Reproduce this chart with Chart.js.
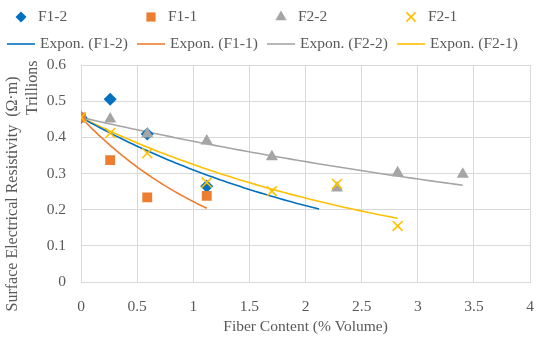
<!DOCTYPE html>
<html>
<head>
<meta charset="utf-8">
<script src="https://cdn.jsdelivr.net/npm/chart.js@4.4.0/dist/chart.umd.min.js"></script>
<style>
html,body{margin:0;padding:0;background:#fff;}
</style>
</head>
<body>
<canvas id="chart" width="550" height="340"></canvas>
<script>
// Series data
const seriesNames=['F1-2','F1-1','F2-2','F2-1'];
const xF1_2=[0,0.26,0.59,1.12];
const yF1_2=[0.455,0.505,0.409,0.265];
const xF1_1=[0,0.26,0.59,1.12];
const yF1_1=[0.455,0.337,0.234,0.238];
const xF2_2=[0,0.26,0.59,1.12,1.7,2.28,2.82,3.4];
const yF2_2=[0.455,0.451,0.409,0.39,0.346,0.26,0.302,0.298];
const xF2_1=[0,0.26,0.59,1.12,1.7,2.28,2.82];
const yF2_1=[0.455,0.412,0.356,0.275,0.251,0.271,0.155];
// trendline end (F1-2 trend is forecast forward)
const trendEnd=[2.12,1.12,3.4,2.82];
const xTicks=[0,0.5,1,1.5,2,2.5,3,3.5,4];
const yTicks=[0,0.1,0.2,0.3,0.4,0.5,0.6];
const xTitle='Fiber Content (% Volume)';
const yTitle='Surface Electrical Resistivity  (\u03A9\u00B7m)';
const yUnit='Trillions';

const colors=['#0070C0','#ED7D31','#A5A5A5','#FFC000'];
const styles=['rectRot','rect','triangle','crossRot'];
const radii=[6.5,7,7,7];
const legendRadii=[5.5,6.5,6.5,6.5];
const FONT='"Liberation Serif", serif';
const TXT='#595959';

const xs=[xF1_2,xF1_1,xF2_2,xF2_1];
const ys=[yF1_2,yF1_1,yF2_2,yF2_1];

// exponential trend y = y0*exp(b x), intercept fixed at the x=0 value
function expTrend(x,y,end){
  const y0=y[0];
  let sxy=0,sxx=0;
  for(let i=0;i<x.length;i++){sxy+=x[i]*Math.log(y[i]/y0);sxx+=x[i]*x[i];}
  const b=sxy/sxx;
  const pts=[];
  const n=60;
  for(let i=0;i<=n;i++){const t=end*i/n;pts.push({x:t,y:y0*Math.exp(b*t)});}
  return pts;
}

const drawOrder=[4,2,3,1];
const datasets=[];
seriesNames.forEach((name,i)=>{
  datasets.push({
    label:name,
    data:xs[i].map((v,j)=>({x:v,y:ys[i][j]})),
    pointStyle:styles[i],
    pointRadius:radii[i],
    pointHoverRadius:radii[i],
    backgroundColor:colors[i],
    borderColor:colors[i],
    borderWidth:i===3?1.6:0,
    showLine:false,
    order:drawOrder[i]
  });
});
seriesNames.forEach((name,i)=>{
  datasets.push({
    label:'Expon. ('+name+')',
    data:expTrend(xs[i],ys[i],trendEnd[i]),
    showLine:true,
    borderColor:colors[i],
    borderWidth:1.6,
    pointRadius:0,
    fill:false,
    tension:0,
    order:10
  });
});

const decor={
  id:'decor',
  afterDraw(chart){
    const ctx=chart.ctx;
    const h=Chart.helpers;
    ctx.save();
    ctx.fillStyle=TXT;
    ctx.font='15.5px '+FONT;
    ctx.textBaseline='middle';
    ctx.textAlign='left';
    // legend row 1: markers
    seriesNames.forEach((name,i)=>{
      const cx=21+130*i;
      ctx.fillStyle=colors[i];ctx.strokeStyle=colors[i];
      ctx.lineWidth=i===3?1.6:0;
      h.drawPoint(ctx,{pointStyle:styles[i],radius:legendRadii[i],borderWidth:i===3?1.6:0},cx,17);
      ctx.fillStyle=TXT;
      ctx.fillText(name,38+130*i,17);
    });
    // legend row 2: trend lines
    seriesNames.forEach((name,i)=>{
      const x0=7+130*i;
      ctx.strokeStyle=colors[i];ctx.lineWidth=1.6;
      ctx.beginPath();ctx.moveTo(x0,44);ctx.lineTo(x0+28,44);ctx.stroke();
      ctx.fillStyle=TXT;
      ctx.fillText('Expon. ('+name+')',x0+33,44);
    });
    // axis titles
    ctx.font='15.5px '+FONT;
    ctx.textAlign='center';
    ctx.textBaseline='alphabetic';
    ctx.fillText(xTitle,(chart.chartArea.left+chart.chartArea.right)/2,331);
    ctx.font='16px '+FONT;
    ctx.save();
    ctx.translate(13,194);
    ctx.rotate(-Math.PI/2);
    ctx.textBaseline='middle';
    ctx.fillText(yTitle,0,0);
    ctx.restore();
    ctx.save();
    ctx.translate(33,115);
    ctx.rotate(-Math.PI/2);
    ctx.textAlign='left';
    ctx.textBaseline='middle';
    ctx.fillText(yUnit,0,0);
    ctx.restore();
    ctx.restore();
  }
};

new Chart(document.getElementById('chart'),{
  type:'scatter',
  data:{datasets},
  plugins:[decor],
  options:{
    responsive:false,
    animation:false,
    events:[],
    layout:{padding:{top:65,right:11,left:0,bottom:0}},
    plugins:{legend:{display:false},tooltip:{enabled:false},title:{display:false}},
    scales:{
      x:{
        type:'linear',min:0,max:4,
        afterBuildTicks:s=>{s.ticks=xTicks.map(v=>({value:v}));},
        afterFit:s=>{s.height=58;},
        grid:{color:'#D9D9D9',drawTicks:false,lineWidth:1},
        border:{color:'#D9D9D9'},
        ticks:{color:TXT,font:{family:FONT,size:15.5},padding:16,maxRotation:0,autoSkip:false,callback:v=>String(v)}
      },
      y:{
        type:'linear',min:0,max:0.6,
        afterBuildTicks:s=>{s.ticks=yTicks.map(v=>({value:v}));},
        afterFit:s=>{s.width=81;},
        grid:{color:'#D9D9D9',drawTicks:false,lineWidth:1},
        border:{color:'#D9D9D9'},
        ticks:{color:TXT,font:{family:FONT,size:15.5},padding:15,callback:v=>String(v)}
      }
    }
  }
});
</script>
</body>
</html>
